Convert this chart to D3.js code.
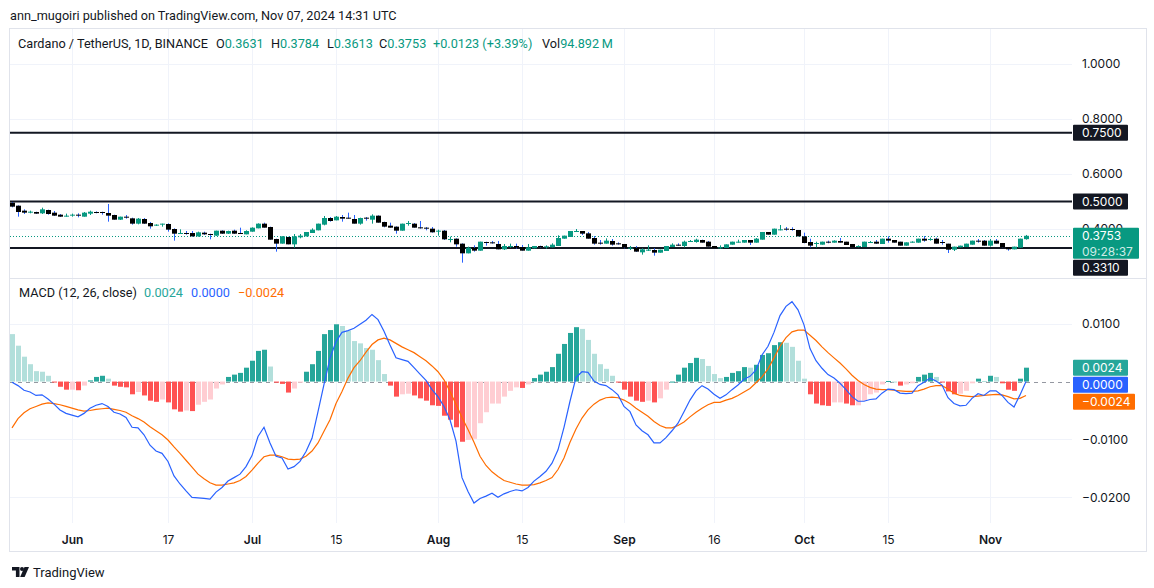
<!DOCTYPE html>
<html><head><meta charset="utf-8">
<script src="https://cdn.jsdelivr.net/npm/d3@7"></script>
<style>
html,body{margin:0;padding:0;background:#fff;}
svg{display:block;font-family:Inter,"Noto Sans",sans-serif;}
</style></head><body>
<svg id="c" width="1154" height="588"></svg>
<script>
// ---------------- data ----------------
const firstDay = "2024-05-22"; // one candle per day from here
const open = [
.4958,.4848,.4667,.4594,.4618,.4570,.4691,.4594,.4521,.4461,
.4485,.4521,.4448,.4558,.4618,.4618,.4582,.4509,.4339,.4448,
.4388,.4194,.4364,.4218,.4121,.4158,.4182,.4000,.3830,.3855,
.3855,.3733,.3867,.3818,.3758,.3939,.3830,.3939,.3855,.3806,
.3903,.4024,.4194,.4073,.3636,.3467,.3709,.3442,.3697,.3733,
.3855,.3952,.4158,.4400,.4315,.4436,.4412,.4364,.4194,.4412,
.4339,.4485,.4255,.4121,.4085,.3939,.4194,.4194,.4061,.4048,
.4012,.3903,.3939,.3612,.3648,.3467,.3115,.3321,.3212,.3527,
.3515,.3455,.3261,.3358,.3382,.3345,.3212,.3297,.3382,.3333,
.3333,.3382,.3648,.3709,.3891,.3927,.3842,.3673,.3503,.3467,
.3564,.3479,.3455,.3297,.3321,.3152,.3224,.3236,.3139,.3200,
.3345,.3430,.3382,.3539,.3527,.3600,.3539,.3382,.3309,.3309,
.3430,.3503,.3503,.3600,.3503,.3612,.3891,.3794,.3964,.4012,
.4000,.3964,.3733,.3527,.3455,.3430,.3539,.3503,.3564,.3539,
.3455,.3358,.3345,.3503,.3539,.3455,.3648,.3600,.3539,.3394,
.3503,.3503,.3648,.3600,.3648,.3527,.3467,.3248,.3333,.3345,
.3430,.3576,.3576,.3394,.3576,.3491,.3345,.3261,.3321,.3631];
const high = [
.4982,.4860,.4715,.4667,.4630,.4776,.4703,.4655,.4545,.4558,
.4558,.4570,.4618,.4667,.4642,.4630,.4909,.4521,.4448,.4509,
.4412,.4400,.4400,.4255,.4170,.4194,.4206,.4024,.3988,.3927,
.3927,.3903,.3903,.3830,.3939,.3952,.3939,.3976,.4048,.3952,
.4061,.4206,.4230,.4085,.3648,.3733,.3721,.3818,.3818,.3891,
.4024,.4194,.4473,.4436,.4473,.4509,.4594,.4509,.4412,.4436,
.4533,.4497,.4267,.4230,.4097,.4194,.4291,.4218,.4291,.4073,
.4073,.3976,.3964,.3721,.3661,.3479,.3358,.3406,.3539,.3539,
.3564,.3564,.3455,.3467,.3467,.3418,.3455,.3382,.3394,.3406,
.3479,.3770,.3758,.3927,.4000,.3927,.3891,.3745,.3600,.3661,
.3636,.3515,.3455,.3382,.3382,.3297,.3406,.3297,.3248,.3382,
.3479,.3479,.3576,.3600,.3648,.3612,.3564,.3382,.3406,.3442,
.3539,.3612,.3600,.3600,.3673,.3891,.3891,.4012,.4145,.4073,
.4061,.3964,.3867,.3648,.3539,.3539,.3576,.3588,.3673,.3539,
.3455,.3406,.3539,.3564,.3600,.3648,.3733,.3600,.3539,.3515,
.3552,.3648,.3745,.3685,.3685,.3600,.3467,.3358,.3394,.3467,
.3576,.3636,.3600,.3636,.3636,.3491,.3345,.3358,.3648,.3784];
const low = [
.4788,.4448,.4545,.4570,.4545,.4545,.4521,.4473,.4436,.4448,
.4448,.4424,.4448,.4509,.4570,.4521,.4267,.4339,.4327,.4376,
.4158,.4170,.4182,.4012,.4109,.4085,.3903,.3576,.3818,.3794,
.3721,.3721,.3782,.3624,.3745,.3818,.3818,.3818,.3818,.3806,
.3903,.4024,.4048,.3612,.3176,.3467,.3442,.3321,.3661,.3733,
.3855,.3952,.4133,.4267,.4315,.4267,.4376,.4194,.4158,.4303,
.4194,.4230,.4061,.4048,.3830,.3939,.4121,.4048,.4012,.3952,
.3867,.3758,.3600,.3515,.3358,.2776,.3115,.3176,.3212,.3394,
.3467,.3261,.3236,.3321,.3285,.3212,.3212,.3297,.3333,.3285,
.3333,.3382,.3648,.3709,.3891,.3782,.3648,.3430,.3430,.3467,
.3394,.3430,.3297,.3236,.3164,.3067,.3200,.3030,.3139,.3200,
.3345,.3394,.3333,.3539,.3503,.3503,.3358,.3309,.3285,.3309,
.3430,.3503,.3503,.3418,.3503,.3612,.3794,.3794,.3952,.3939,
.3939,.3733,.3479,.3333,.3333,.3430,.3479,.3503,.3503,.3418,
.3345,.3333,.3345,.3503,.3455,.3455,.3503,.3503,.3394,.3394,
.3503,.3503,.3539,.3576,.3467,.3430,.3127,.3200,.3333,.3345,
.3430,.3503,.3394,.3358,.3467,.3333,.3212,.3261,.3321,.3613];
const close = [
.4812,.4618,.4594,.4630,.4558,.4715,.4545,.4485,.4448,.4485,
.4521,.4497,.4594,.4630,.4594,.4582,.4485,.4339,.4448,.4412,
.4194,.4376,.4194,.4097,.4158,.4194,.3976,.3830,.3855,.3830,
.3733,.3879,.3806,.3794,.3939,.3830,.3927,.3830,.3830,.3927,
.4048,.4194,.4048,.3612,.3467,.3733,.3442,.3733,.3758,.3891,
.3976,.4194,.4400,.4291,.4448,.4376,.4388,.4194,.4400,.4376,
.4485,.4230,.4085,.4048,.3939,.4194,.4218,.4048,.4024,.4012,
.3879,.3939,.3624,.3636,.3442,.3115,.3321,.3212,.3539,.3503,
.3479,.3261,.3382,.3382,.3321,.3212,.3333,.3382,.3358,.3370,
.3430,.3673,.3758,.3927,.3927,.3830,.3648,.3467,.3479,.3576,
.3430,.3442,.3321,.3321,.3176,.3261,.3248,.3139,.3248,.3382,
.3430,.3394,.3539,.3564,.3612,.3503,.3358,.3309,.3333,.3442,
.3539,.3539,.3600,.3503,.3648,.3891,.3794,.4012,.3988,.3976,
.3976,.3733,.3491,.3394,.3491,.3539,.3503,.3576,.3503,.3418,
.3345,.3382,.3539,.3527,.3467,.3648,.3576,.3503,.3394,.3515,
.3539,.3648,.3576,.3636,.3467,.3491,.3248,.3358,.3394,.3467,
.3576,.3539,.3394,.3576,.3467,.3333,.3261,.3358,.3648,.3753];

const macdLine = [
-0.0001,-0.0007,-0.0015,-0.0018,-0.0024,-0.0023,-0.0030,-0.0039,-0.0049,-0.0055,
-0.0058,-0.0061,-0.0055,-0.0046,-0.0041,-0.0038,-0.0043,-0.0053,-0.0056,-0.0062,
-0.0079,-0.0080,-0.0092,-0.0110,-0.0120,-0.0124,-0.0138,-0.0163,-0.0177,-0.0189,
-0.0200,-0.0201,-0.0202,-0.0203,-0.0191,-0.0183,-0.0172,-0.0166,-0.0160,-0.0147,
-0.0128,-0.0095,-0.0079,-0.0106,-0.0129,-0.0132,-0.0151,-0.0147,-0.0138,-0.0121,
-0.0098,-0.0052,-0.0005,0.0040,0.0069,0.0085,0.0088,0.0092,0.0099,0.0106,
0.0116,0.0107,0.0087,0.0063,0.0041,0.0038,0.0035,0.0024,0.0013,0.0002,
-0.0014,-0.0026,-0.0043,-0.0066,-0.0103,-0.0166,-0.0190,-0.0210,-0.0202,-0.0198,
-0.0193,-0.0200,-0.0194,-0.0190,-0.0187,-0.0189,-0.0183,-0.0172,-0.0164,-0.0155,
-0.0141,-0.0118,-0.0079,-0.0034,0.0007,0.0017,0.0016,0.0001,-0.0005,-0.0007,
-0.0014,-0.0023,-0.0043,-0.0052,-0.0075,-0.0085,-0.0092,-0.0106,-0.0106,-0.0097,
-0.0085,-0.0072,-0.0052,-0.0032,-0.0016,-0.0007,-0.0013,-0.0022,-0.0029,-0.0023,
-0.0014,-0.0006,0.0004,0.0009,0.0020,0.0046,0.0061,0.0085,0.0114,0.0130,
0.0138,0.0124,0.0098,0.0057,0.0036,0.0023,0.0012,0.0006,-0.0003,-0.0014,
-0.0026,-0.0034,-0.0034,-0.0031,-0.0030,-0.0020,-0.0013,-0.0014,-0.0020,-0.0021,
-0.0020,-0.0007,-0.0001,0.0006,0.0001,-0.0006,-0.0028,-0.0038,-0.0042,-0.0041,
-0.0029,-0.0021,-0.0024,-0.0016,-0.0016,-0.0024,-0.0036,-0.0044,-0.0023,0.0000];
const signalLine = [
-0.0080,-0.0064,-0.0054,-0.0047,-0.0043,-0.0039,-0.0037,-0.0038,-0.0040,-0.0043,
-0.0046,-0.0049,-0.0051,-0.0050,-0.0048,-0.0047,-0.0046,-0.0048,-0.0050,-0.0053,
-0.0059,-0.0064,-0.0070,-0.0078,-0.0085,-0.0092,-0.0101,-0.0113,-0.0124,-0.0136,
-0.0148,-0.0160,-0.0168,-0.0175,-0.0179,-0.0179,-0.0177,-0.0175,-0.0171,-0.0164,
-0.0153,-0.0141,-0.0130,-0.0127,-0.0127,-0.0130,-0.0134,-0.0135,-0.0134,-0.0129,
-0.0120,-0.0106,-0.0086,-0.0066,-0.0038,-0.0017,0.0006,0.0024,0.0036,0.0051,
0.0064,0.0072,0.0075,0.0072,0.0066,0.0060,0.0055,0.0050,0.0043,0.0036,
0.0027,0.0017,0.0003,-0.0017,-0.0039,-0.0062,-0.0083,-0.0105,-0.0129,-0.0145,
-0.0156,-0.0164,-0.0171,-0.0174,-0.0177,-0.0179,-0.0179,-0.0178,-0.0175,-0.0171,
-0.0166,-0.0152,-0.0132,-0.0105,-0.0082,-0.0063,-0.0049,-0.0039,-0.0032,-0.0028,
-0.0027,-0.0028,-0.0032,-0.0038,-0.0046,-0.0053,-0.0060,-0.0069,-0.0076,-0.0080,
-0.0080,-0.0076,-0.0070,-0.0061,-0.0053,-0.0046,-0.0040,-0.0036,-0.0036,-0.0032,
-0.0029,-0.0024,-0.0018,-0.0012,-0.0002,0.0008,0.0022,0.0041,0.0061,0.0076,
0.0086,0.0089,0.0089,0.0080,0.0071,0.0060,0.0050,0.0041,0.0032,0.0022,
0.0011,0.0002,-0.0005,-0.0010,-0.0013,-0.0014,-0.0014,-0.0015,-0.0016,-0.0017,
-0.0017,-0.0016,-0.0013,-0.0009,-0.0007,-0.0007,-0.0013,-0.0020,-0.0024,-0.0025,
-0.0026,-0.0025,-0.0024,-0.0023,-0.0022,-0.0023,-0.0026,-0.0030,-0.0029,-0.0024];
const histogram = [
0.0082,0.0062,0.0043,0.0030,0.0018,0.0017,0.0010,-0.0001,-0.0009,-0.0014,
-0.0014,-0.0015,-0.0007,0.0002,0.0008,0.0010,0.0005,-0.0007,-0.0009,-0.0010,
-0.0022,-0.0018,-0.0024,-0.0033,-0.0035,-0.0031,-0.0036,-0.0048,-0.0052,-0.0050,
-0.0051,-0.0040,-0.0035,-0.0031,-0.0012,-0.0005,0.0008,0.0012,0.0015,0.0024,
0.0036,0.0053,0.0055,0.0026,-0.0002,-0.0004,-0.0019,-0.0012,-0.0002,0.0017,
0.0030,0.0053,0.0082,0.0089,0.0099,0.0096,0.0088,0.0070,0.0066,0.0058,
0.0055,0.0037,0.0013,-0.0007,-0.0026,-0.0022,-0.0021,-0.0024,-0.0029,-0.0033,
-0.0041,-0.0042,-0.0059,-0.0066,-0.0079,-0.0104,-0.0101,-0.0099,-0.0072,-0.0053,
-0.0038,-0.0038,-0.0026,-0.0016,-0.0010,-0.0011,-0.0005,0.0006,0.0012,0.0017,
0.0025,0.0048,0.0065,0.0084,0.0094,0.0091,0.0072,0.0048,0.0030,0.0022,
0.0010,-0.0001,-0.0014,-0.0026,-0.0033,-0.0035,-0.0033,-0.0036,-0.0029,-0.0014,
0.0000,0.0012,0.0024,0.0032,0.0041,0.0039,0.0027,0.0013,0.0006,0.0008,
0.0015,0.0018,0.0025,0.0024,0.0029,0.0046,0.0049,0.0063,0.0068,0.0067,
0.0060,0.0036,0.0005,-0.0022,-0.0038,-0.0041,-0.0042,-0.0036,-0.0036,-0.0038,
-0.0041,-0.0041,-0.0033,-0.0022,-0.0019,-0.0005,0.0001,0.0000,-0.0007,-0.0005,
-0.0003,0.0008,0.0012,0.0015,0.0008,-0.0001,-0.0017,-0.0022,-0.0021,-0.0016,
-0.0003,0.0005,0.0001,0.0010,0.0008,-0.0003,-0.0014,-0.0016,0.0005,0.0024];

const priceTicks = [1.0, 0.8, 0.6, 0.4];
const levelLines = [0.75, 0.5, 0.331];
const lastPrice = 0.3753;
const countdown = "09:28:37";
const macdTicks = [0.01, -0.01, -0.02];
const macdLegendValues = [0.0024, 0.0000, -0.0024];
const timeTicks = [
  ["2024-06-01","Jun"],["2024-06-17","17"],["2024-07-01","Jul"],["2024-07-15","15"],
  ["2024-08-01","Aug"],["2024-08-15","15"],["2024-09-01","Sep"],["2024-09-16","16"],
  ["2024-10-01","Oct"],["2024-10-15","15"],["2024-11-01","Nov"]];
const monthLabels = ["Jun","Jul","Aug","Sep","Oct","Nov"];
const headerText = "ann_mugoiri published on TradingView.com, Nov 07, 2024 14:31 UTC";
const symbolText = "Cardano / TetherUS, 1D, BINANCE";
const ohlcLegend = [["O","0.3631"],["H","0.3784"],["L","0.3613"],["C","0.3753"]];
const changeText = "+0.0123 (+3.39%)";
const volText = ["Vol","94.892\u2009M"];
const macdTitle = "MACD (12, 26, close)";

// ---------------- drawing ----------------
const svg = d3.select("#c");
const TXT = "#131722", GRID = "#f0f3fa", BORDER = "#e0e3eb";
const UP = "#089981", DOWN = "#000000", DOWNWICK = "#2962ff";
const BLUE = "#2962ff", ORANGE = "#ff6d00";
const LFONT = "Roboto, Inter, sans-serif", LSIZE = "12.7px";
const plotL = 10, plotR = 1072;
const paneTop = 28, paneSep = 278, macdBottom = 523, axisBottom = 551;

const parse = d3.utcParse("%Y-%m-%d");
const day0 = parse(firstDay);
const dates = close.map((_, i) => d3.utcDay.offset(day0, i));
const x = d3.scaleUtc().domain([dates[0], dates[dates.length-1]]).range([12, 1026]);
const yP = d3.scaleLinear().domain([0.4, 1.0]).range([229, 64]);
const yM = d3.scaleLinear().domain([-0.02, 0.01]).range([497.3, 323.7]);
const fmt = v => d3.format(".4f")(v).replace("-", "\u2212");

// frame
svg.append("rect").attr("x",9.5).attr("y",paneTop+0.5).attr("width",1137).attr("height",axisBottom-paneTop)
  .attr("fill","none").attr("stroke",BORDER);
svg.append("line").attr("x1",9.5).attr("x2",1146.5).attr("y1",paneSep+0.5).attr("y2",paneSep+0.5).attr("stroke",BORDER);

// vertical grid
const tickDates = timeTicks.map(t => parse(t[0]));
[[paneTop+1,paneSep],[paneSep+1,macdBottom]].forEach(([a,b]) => {
  svg.append("g").selectAll("line").data(tickDates).join("line")
    .attr("x1", d => Math.round(x(d))+0.5).attr("x2", d => Math.round(x(d))+0.5)
    .attr("y1", a).attr("y2", b).attr("stroke", GRID);
});
// horizontal grids
svg.append("g").selectAll("line").data(priceTicks).join("line")
  .attr("x1",plotL).attr("x2",plotR).attr("y1",d=>Math.round(yP(d))+0.5).attr("y2",d=>Math.round(yP(d))+0.5).attr("stroke",GRID);
svg.append("g").selectAll("line").data(macdTicks).join("line")
  .attr("x1",plotL).attr("x2",plotR).attr("y1",d=>Math.round(yM(d))+0.5).attr("y2",d=>Math.round(yM(d))+0.5).attr("stroke",GRID);

// price axis labels
const pAxis = svg.append("g").attr("transform",`translate(${plotR},0)`)
  .call(d3.axisRight(yP).tickValues(priceTicks).tickFormat(fmt).tickSize(0).tickPadding(10));
pAxis.select(".domain").remove();
pAxis.selectAll("text").attr("fill",TXT).style("font-size","12px").style("font-family","Inter, sans-serif");
const mAxis = svg.append("g").attr("transform",`translate(${plotR},0)`)
  .call(d3.axisRight(yM).tickValues(macdTicks).tickFormat(fmt).tickSize(0).tickPadding(10));
mAxis.select(".domain").remove();
mAxis.selectAll("text").attr("fill",TXT).style("font-size","12px").style("font-family","Inter, sans-serif");

// time axis
const tAxis = svg.append("g").attr("transform",`translate(0,${macdBottom})`)
  .call(d3.axisBottom(x).tickValues(tickDates).tickSize(0).tickPadding(12)
    .tickFormat((d,i) => timeTicks[i][1]));
tAxis.select(".domain").remove();
tAxis.selectAll("text").attr("fill",TXT).style("font-size","12px").style("font-family","Inter, sans-serif")
  .style("font-weight",(d,i)=> monthLabels.includes(timeTicks[i][1]) ? 600 : 400);

// level lines
svg.append("g").selectAll("line").data(levelLines).join("line")
  .attr("x1",plotL).attr("x2",plotR).attr("y1",d=>yP(d)).attr("y2",d=>yP(d))
  .attr("stroke",TXT).attr("stroke-width",2);
// last price dotted line
svg.append("line").attr("x1",plotL).attr("x2",plotR).attr("y1",Math.round(yP(lastPrice))+0.5).attr("y2",Math.round(yP(lastPrice))+0.5)
  .attr("stroke",UP).attr("stroke-width",1).attr("stroke-dasharray","1,2");

// candles
const cg = svg.append("g");
close.forEach((c,i) => {
  const o = open[i], up = c >= o;
  const cx = Math.round(x(dates[i]));
  cg.append("line").attr("x1",cx+0.5).attr("x2",cx+0.5).attr("y1",yP(high[i])).attr("y2",yP(low[i]))
    .attr("stroke", up ? UP : DOWNWICK).attr("stroke-width",1);
  const t = yP(Math.max(o,c)), b = yP(Math.min(o,c));
  cg.append("rect").attr("x",cx-2).attr("width",5).attr("y",t).attr("height",Math.max(1,b-t))
    .attr("fill", up ? UP : DOWN);
});

// MACD zero line
svg.append("line").attr("x1",plotL).attr("x2",plotR).attr("y1",Math.round(yM(0))+0.5).attr("y2",Math.round(yM(0))+0.5)
  .attr("stroke","#9598a1").attr("stroke-dasharray","4,4").attr("stroke-width",1);

// histogram
const hg = svg.append("g");
histogram.forEach((h,i) => {
  const prev = i === 0 ? h + 1e-9 : histogram[i-1];
  const col = h >= 0 ? (h >= prev ? "#26a69a" : "#b2dfdb") : (h < prev ? "#ff5252" : "#ffcdd2");
  const cx = Math.round(x(dates[i]));
  const y0 = yM(0), y1 = yM(h);
  hg.append("rect").attr("x",cx-2).attr("width",5)
    .attr("y",Math.min(y0,y1)).attr("height",Math.max(1,Math.abs(y1-y0))).attr("fill",col);
});

// MACD & signal lines
const lineGen = arr => d3.line().x((d,i)=>x(dates[i])).y(d=>yM(d))(arr);
svg.append("path").attr("d",lineGen(signalLine)).attr("fill","none").attr("stroke",ORANGE).attr("stroke-width",1.2);
svg.append("path").attr("d",lineGen(macdLine)).attr("fill","none").attr("stroke",BLUE).attr("stroke-width",1.2);

// ----- scale labels (boxes) -----
function box(yTop, h, w, fill, lines, txtFill) {
  const g = svg.append("g");
  g.append("rect").attr("x",1073).attr("y",yTop).attr("width",w).attr("height",h).attr("rx",1).attr("fill",fill);
  lines.forEach((l,k) => g.append("text").attr("x",1082).attr("y",yTop+12+k*16).text(l[0])
    .attr("fill",l[1]||txtFill).style("font-size","12px"));
}
const pb = [
  {top: yP(levelLines[0])-8, h:16, w:55, fill:TXT, lines:[[fmt(levelLines[0])]]},
  {top: yP(levelLines[1])-8, h:16, w:55, fill:TXT, lines:[[fmt(levelLines[1])]]},
  {top: yP(lastPrice)-8, h:31, w:66, fill:UP, lines:[[fmt(lastPrice)],[countdown,"#cdebe6"]]},
  {top: yP(levelLines[2])-8, h:16, w:55, fill:TXT, lines:[[fmt(levelLines[2])]]}
].sort((a,b)=>a.top-b.top);
let lastBottom = -1e9;
pb.forEach(b => { if (b.top < lastBottom + 1) b.top = lastBottom + 1; lastBottom = b.top + b.h;
  box(b.top, b.h, b.w, b.fill, b.lines, "#fff"); });
const mColors = ["#26a69a", BLUE, ORANGE];
let mb = -1e9;
macdLegendValues.forEach((v,k) => {
  let top = yM(v) - 8; if (top < mb + 1) top = mb + 1; mb = top + 16;
  box(top, 16, fmt(v).length > 6 ? 62 : 55, mColors[k], [[fmt(v)]], "#fff");
});

// ----- header & legends -----
svg.append("text").attr("x",10).attr("y",20).text(headerText).attr("fill",TXT)
  .style("font-size",LSIZE).style("font-family",LFONT);
const legendRow = [
  {x:18, parts:[[symbolText,TXT]]},
  {x:216, parts:[[ohlcLegend[0][0],TXT],[ohlcLegend[0][1],UP]]},
  {x:271, parts:[[ohlcLegend[1][0],TXT],[ohlcLegend[1][1],UP]]},
  {x:327, parts:[[ohlcLegend[2][0],TXT],[ohlcLegend[2][1],UP]]},
  {x:379, parts:[[ohlcLegend[3][0],TXT],[ohlcLegend[3][1],UP]]},
  {x:433, parts:[[changeText,UP]]},
  {x:542, parts:[[volText[0],TXT],[volText[1],UP]]}
];
legendRow.forEach(g => {
  const t = svg.append("text").attr("x",g.x).attr("y",48).style("font-size",LSIZE).style("font-family",LFONT);
  g.parts.forEach(p => t.append("tspan").attr("fill",p[1]).text(p[0]));
});
const mlX = [19, 144, 191, 238];
svg.append("text").attr("x",mlX[0]).attr("y",297).attr("fill",TXT).text(macdTitle)
  .style("font-size",LSIZE).style("font-family",LFONT);
macdLegendValues.forEach((v,k) => svg.append("text").attr("x",mlX[k+1]).attr("y",297)
  .attr("fill",mColors[k]).text(fmt(v)).style("font-size",LSIZE).style("font-family",LFONT));

// footer logo
const fg = svg.append("g").attr("transform","translate(12,566)");
fg.append("path").attr("d","M0,1 h7.5 v10 h-3.6 v-6.4 h-3.9 z").attr("fill",TXT);
fg.append("circle").attr("cx",10).attr("cy",3).attr("r",2).attr("fill",TXT);
fg.append("path").attr("d","M12.5,1 h4.5 l-4.4,10 h-4.5 z").attr("fill",TXT);
svg.append("text").attr("x",33).attr("y",577).text("TradingView").attr("fill",TXT)
  .style("font-size","13px").style("font-family",LFONT);
</script>
</body></html>
